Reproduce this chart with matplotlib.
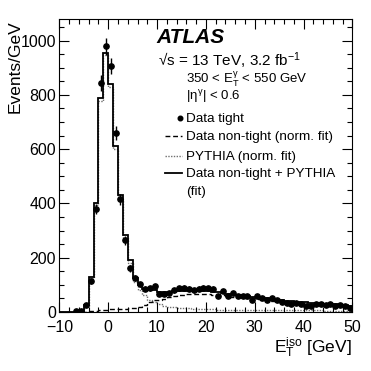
import numpy as np
import matplotlib
matplotlib.use("Agg")
import matplotlib.pyplot as plt
from matplotlib.ticker import MultipleLocator

plt.rcParams['font.family'] = ['Liberation Sans', 'DejaVu Sans']
plt.rcParams['mathtext.fontset'] = 'custom'
plt.rcParams['mathtext.rm'] = 'Liberation Sans'
plt.rcParams['mathtext.it'] = 'Liberation Sans'
plt.rcParams['mathtext.bf'] = 'Liberation Sans:bold'

# ---- data (1 GeV bins from -10 to 50) ----
bin_edges = np.arange(-10, 51, 1)

data_tight = [0, 0, 0, 2, 3, 27, 115, 379, 845, 979,
              906, 660, 416, 264, 162, 125, 102, 85, 87, 95,
              68, 68, 70, 80, 87, 90, 85, 80, 85, 90,
              87, 85, 60, 77, 58, 70, 60, 60, 60, 45,
              60, 50, 45, 52, 43, 38, 33, 28, 33, 28,
              23, 23, 31, 31, 26, 28, 21, 26, 23, 16]

nontight_bkg = [0, 0, 0, 0, 0, 1, 3, 5, 7, 8,
                10, 11, 12, 12, 13, 14, 18, 24, 36, 44,
                45, 49, 55, 60, 63, 64, 65, 65, 66, 66,
                66, 64, 63, 61, 59, 57, 56, 54, 51, 49,
                47, 46, 44, 41, 39, 37, 35, 34, 32, 31,
                30, 28, 27, 26, 25, 24, 23, 21, 20, 18]

pythia_sig = [0, 0, 0, 0, 2, 23, 124, 394, 779, 946,
              830, 601, 418, 271, 180, 112, 82, 62, 46, 36,
              28, 23, 19, 17, 15, 14, 13, 12, 11, 11,
              10, 10, 9, 9, 9, 9, 8, 8, 8, 8,
              8, 7, 7, 7, 7, 7, 7, 6, 6, 6,
              6, 6, 6, 6, 5, 5, 5, 5, 5, 5]

total_fit = [0, 0, 0, 0, 2, 25, 128, 400, 787, 955,
             840, 612, 430, 283, 193, 126, 100, 86, 82, 80,
             73, 72, 74, 77, 78, 78, 78, 77, 77, 77,
             76, 74, 72, 70, 68, 66, 64, 62, 59, 57,
             55, 53, 51, 48, 46, 44, 42, 40, 38, 37,
             36, 34, 33, 32, 30, 29, 28, 26, 25, 23]

xlabels = ['\u221210', '0', '10', '20', '30', '40', '50']

# ---- figure ----
fig = plt.figure(figsize=(3.71, 3.71), dpi=100)
ax = fig.add_axes([0.160, 0.159, 0.790, 0.790])

centers = 0.5 * (bin_edges[:-1] + bin_edges[1:])
d = np.array(data_tight, dtype=float)
mask = d > 0

ax.stairs(pythia_sig, bin_edges, color='#707070', lw=1.0, linestyle=(0, (1, 1)))
ax.stairs(nontight_bkg, bin_edges, color='black', lw=1.0, linestyle=(0, (3.5, 2)))
ax.stairs(total_fit, bin_edges, color='black', lw=1.3)
ax.errorbar(centers[mask], d[mask], yerr=np.sqrt(d[mask]), fmt='o', color='black',
            ms=3.8, elinewidth=1.0, capsize=0, zorder=5)

ax.set_xlim(-10, 50)
ax.set_ylim(0, 1080)
ax.xaxis.set_major_locator(MultipleLocator(10))
ax.xaxis.set_minor_locator(MultipleLocator(2))
ax.yaxis.set_major_locator(MultipleLocator(200))
ax.yaxis.set_minor_locator(MultipleLocator(50))
ax.set_xticks(np.arange(-10, 51, 10))
ax.set_xticklabels(xlabels)
ax.tick_params(which='both', direction='in', top=True, right=True, width=0.8)
ax.tick_params(which='major', length=7, labelsize=11.5)
ax.tick_params(which='minor', length=3.5)
ax.tick_params(axis='x', which='major', pad=5.5)
ax.tick_params(axis='y', which='major', pad=2.5)
for s in ax.spines.values():
    s.set_linewidth(0.8)

fig.text(0.042, 1 - 20 / 371, 'Events/GeV', rotation=90, ha='center', va='top', fontsize=12.5)
fig.text(0.949, 18 / 371, r'$\mathrm{E}_{\mathrm{T}}^{\mathrm{iso}}$ [GeV]', ha='right',
         va='baseline', fontsize=12.5)

T = ax.transAxes
ax.text(0.330, 0.918, 'ATLAS', transform=T, fontsize=15, fontweight='bold', style='italic',
        va='baseline')
ax.text(0.337, 0.838, '\u221as = 13 TeV, 3.2 fb$^{\\mathrm{-1}}$', transform=T,
        fontsize=11, va='baseline')
ax.text(0.432, 0.780, r'350 < $\mathrm{E}_{\mathrm{T}}^{\gamma}$ < 550 GeV', transform=T,
        fontsize=9.5, va='baseline')
ax.text(0.432, 0.724, r'|$\eta^{\gamma}$| < 0.6', transform=T, fontsize=9.5, va='baseline')

fs = 9.7
ax.plot([0.412], [0.662], 'o', color='black', ms=3.3, transform=T, clip_on=False)
ax.text(0.432, 0.648, 'Data tight', transform=T, fontsize=fs, va='baseline')
ax.plot([0.361, 0.419], [0.600, 0.600], color='black', lw=1.0, linestyle=(0, (3.5, 2)),
        transform=T, clip_on=False)
ax.text(0.432, 0.587, 'Data non-tight (norm. fit)', transform=T, fontsize=fs, va='baseline')
ax.plot([0.361, 0.419], [0.532, 0.532], color='#707070', lw=1.0, linestyle=(0, (1, 1)),
        transform=T, clip_on=False)
ax.text(0.432, 0.519, 'PYTHIA (norm. fit)', transform=T, fontsize=fs, va='baseline')
ax.plot([0.361, 0.419], [0.474, 0.474], color='black', lw=1.3, transform=T, clip_on=False)
ax.text(0.432, 0.461, 'Data non-tight + PYTHIA', transform=T, fontsize=fs, va='baseline')
ax.text(0.432, 0.399, '(fit)', transform=T, fontsize=fs, va='baseline')

fig.savefig('out.png', dpi=100)
